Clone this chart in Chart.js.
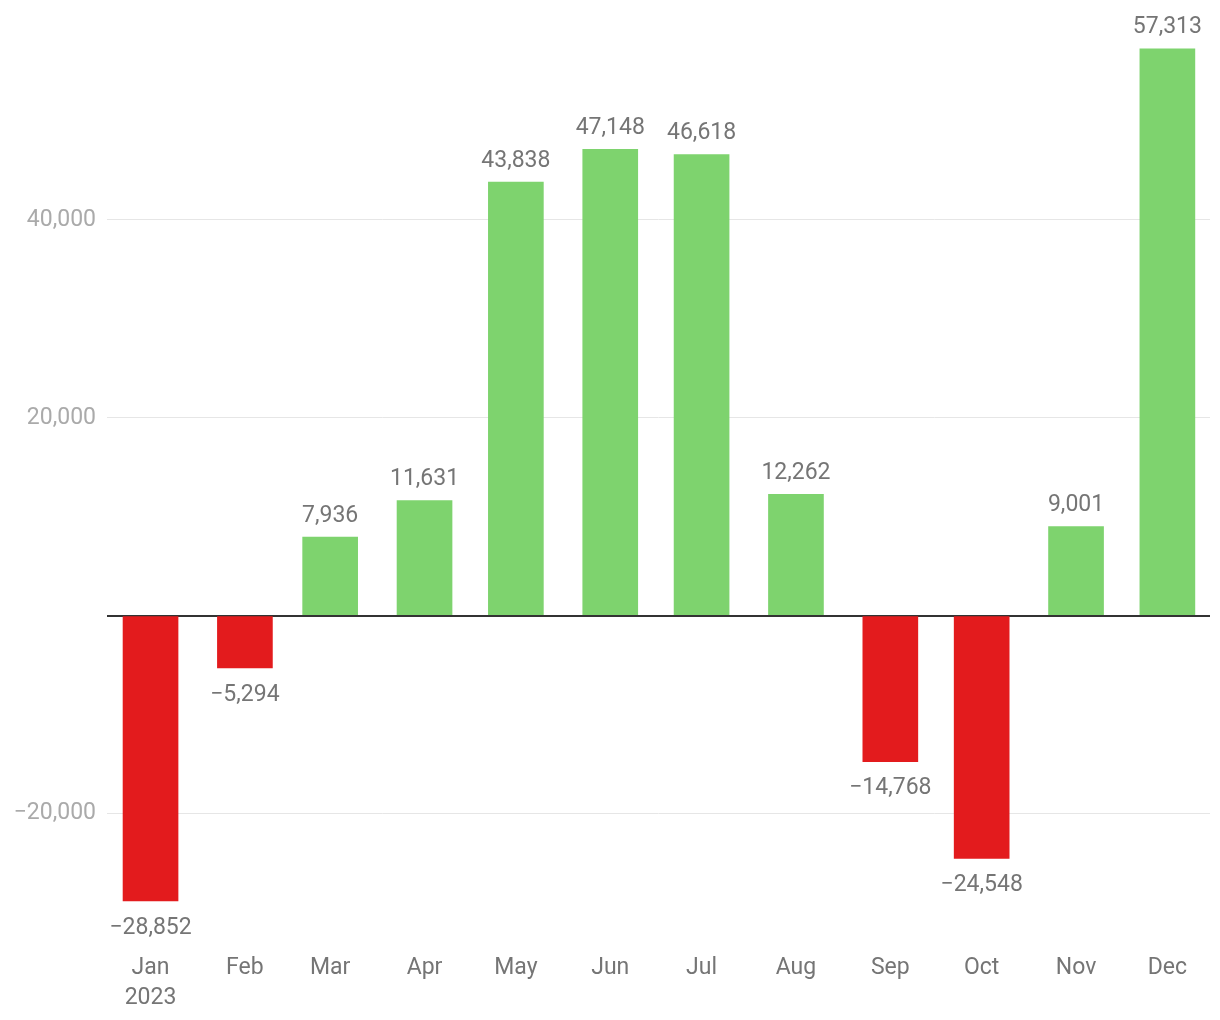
<!DOCTYPE html>
<html>
<head>
<meta charset="utf-8">
<script src="https://cdn.jsdelivr.net/npm/chart.js@4"></script>
<style>
  html, body { margin: 0; padding: 0; background: #fff; }
  #wrap { width: 1220px; height: 1020px; }
</style>
</head>
<body>
<div id="wrap"><canvas id="myChart"></canvas></div>
<script>
const months = ['Jan', 'Feb', 'Mar', 'Apr', 'May', 'Jun', 'Jul', 'Aug', 'Sep', 'Oct', 'Nov', 'Dec']
const dates = ['2023-01-15', '2023-02-15', '2023-03-15', '2023-04-15', '2023-05-15', '2023-06-15',
               '2023-07-15', '2023-08-15', '2023-09-15', '2023-10-15', '2023-11-15', '2023-12-15']
const values = [-28852, -5294, 7936, 11631, 43838, 47148, 46618, 12262, -14768, -24548, 9001, 57313]
const yTicks = [-20000, 0, 20000, 40000]

const day = s => (Date.parse(s) - Date.parse('2023-01-01')) / 864e5
const fmt = v => v.toLocaleString('en-US').replace('-', '\u2212')
const font = { family: 'Roboto', size: 23, lineHeight: 1.3 }

// value labels above / below each bar
const barLabels = {
  id: 'barLabels',
  afterDatasetsDraw(chart) {
    const c = chart.ctx
    c.save()
    c.font = '23px Roboto'
    c.fillStyle = '#757575'
    c.textAlign = 'center'
    c.textBaseline = 'middle'
    chart.getDatasetMeta(0).data.forEach((el, i) => {
      const v = values[i]
      c.fillText(fmt(v), el.x, v >= 0 ? el.y - 21 : el.y + 27)
    })
    c.restore()
  }
}

const ctx = document.getElementById('myChart')
new Chart(ctx, {
  type: 'bar',
  data: {
    datasets: [{
      data: values.map((v, i) => ({ x: day(dates[i]), y: v })),
      backgroundColor: values.map(v => v >= 0 ? '#7ed36e' : '#e31b1d'),
      barThickness: 55,
      borderWidth: 0
    }]
  },
  options: {
    responsive: true,
    maintainAspectRatio: false,
    animation: false,
    layout: { padding: { top: 37, right: 10, left: 0, bottom: 0 } },
    plugins: { legend: { display: false }, tooltip: { enabled: false } },
    scales: {
      x: {
        type: 'linear',
        offset: false,
        min: -0.3,
        max: 362,
        grid: { display: false, offset: false },
        border: { display: false },
        afterBuildTicks: s => { s.ticks = dates.map(d => ({ value: day(d) })) },
        afterFit: s => { s.height = 78 },
        ticks: {
          autoSkip: false,
          maxRotation: 0,
          padding: 3,
          color: '#757575',
          font,
          callback: (v, i) => i === 0 ? [months[0], '2023'] : months[i]
        }
      },
      y: {
        min: -33000,
        max: 58500,
        border: { display: false },
        grid: {
          drawTicks: false,
          color: c => c.tick && c.tick.value === 0 ? '#333333' : '#e6e6e6',
          lineWidth: c => c.tick && c.tick.value === 0 ? 2 : 1
        },
        afterBuildTicks: s => { s.ticks = yTicks.map(v => ({ value: v })) },
        afterFit: s => { s.width = 107 },
        ticks: {
          padding: 11,
          color: '#aaaaaa',
          font,
          callback: v => v === 0 ? '' : fmt(v)
        }
      }
    }
  },
  plugins: [barLabels]
})
</script>
</body>
</html>
